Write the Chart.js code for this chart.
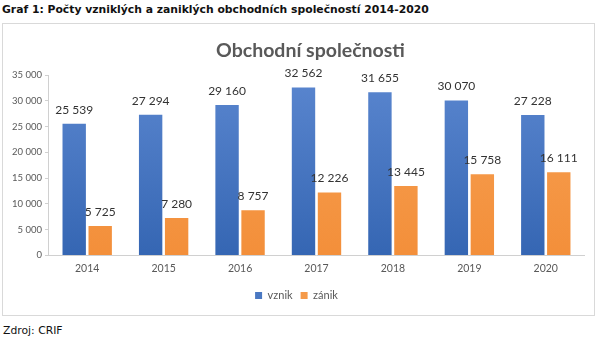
<!DOCTYPE html>
<html>
<head>
<meta charset="utf-8">
<script src="https://cdn.jsdelivr.net/npm/chart.js@4/dist/chart.umd.min.js"></script>
<style>
  html, body { margin:0; padding:0; background:#fff; width:598px; height:342px; overflow:hidden; }
  #hdr { position:absolute; left:2px; top:3px; font:bold 10.8px "DejaVu Sans", Verdana, sans-serif; color:#111; white-space:nowrap; }
  #box { position:absolute; left:2px; top:23px; width:591px; height:291px; border:1px solid #d9d9d9; background:#fff; }
  #ttl { position:absolute; left:12px; top:14px; width:591px; text-align:center; font:bold 19.5px Lato, "Open Sans", sans-serif; color:#595959; white-space:nowrap; }
  #ftr { position:absolute; left:3px; top:324px; font:10.8px "DejaVu Sans", Verdana, sans-serif; color:#111; }
</style>
</head>
<body>
<div id="hdr">Graf 1: Počty vzniklých a zaniklých obchodních společností 2014-2020</div>
<div id="box"><canvas id="c" width="591" height="291"></canvas><div id="ttl"></div></div>
<div id="ftr">Zdroj: CRIF</div>
<script>
const categories = ["2014", "2015", "2016", "2017", "2018", "2019", "2020"];
const vznik = [25539, 27294, 29160, 32562, 31655, 30070, 27228];
const zanik = [5725, 7280, 8757, 12226, 13445, 15758, 16111];
const seriesNames = ["vznik", "zánik"];
const chartTitle = "Obchodní společnosti";
document.getElementById('ttl').textContent = chartTitle;

function fmt(v) { return String(v).replace(/\B(?=(\d{3})+(?!\d))/g, " "); }

function grad(ctx, top, bottom) {
  const c = ctx.chart;
  const a = c.chartArea;
  if (!a) return bottom;
  const g = c.ctx.createLinearGradient(0, a.top, 0, a.bottom);
  g.addColorStop(0, top);
  g.addColorStop(1, bottom);
  return g;
}

const labelsPlugin = {
  id: 'barLabels',
  afterDatasetsDraw(chart) {
    const ctx = chart.ctx;
    ctx.save();
    ctx.font = '12px Lato, "Open Sans", sans-serif';
    ctx.fillStyle = '#333';
    ctx.textAlign = 'center';
    ctx.textBaseline = 'bottom';
    chart.data.datasets.forEach((ds, i) => {
      const meta = chart.getDatasetMeta(i);
      meta.data.forEach((bar, j) => {
        ctx.fillText(fmt(ds.data[j]), bar.x, bar.y - 8);
      });
    });
    ctx.restore();
  }
};

new Chart(document.getElementById('c'), {
  type: 'bar',
  data: {
    labels: categories,
    datasets: [
      { label: seriesNames[0], data: vznik,
        backgroundColor: (ctx) => grad(ctx, '#5a86cf', '#3566b3'),
        categoryPercentage: 0.68, barPercentage: 0.9 },
      { label: seriesNames[1], data: zanik,
        backgroundColor: (ctx) => grad(ctx, '#f7a154', '#f38f3a'),
        categoryPercentage: 0.68, barPercentage: 0.9 }
    ]
  },
  options: {
    responsive: false,
    animation: false,
    devicePixelRatio: 1,
    layout: { padding: { left: 6, right: 10, top: 51, bottom: 4 } },
    plugins: {
      title: { display: false },
      legend: { position: 'bottom',
        labels: { boxWidth: 7, boxHeight: 7, color: '#595959', padding: 8,
          font: { family: 'Lato, "Open Sans", sans-serif', size: 11 },
          generateLabels(chart) {
            return [['#4a78c2'], ['#f59a4a']].map((c, i) => ({
              text: seriesNames[i], fillStyle: c[0], strokeStyle: c[0], lineWidth: 0, datasetIndex: i, fontColor: '#595959'
            }));
          } } },
      tooltip: { enabled: false }
    },
    scales: {
      x: {
        grid: { display: true, drawOnChartArea: false, drawTicks: false },
        border: { display: true, color: '#d0d0d0' },
        ticks: { color: '#595959', padding: 7, font: { family: 'Lato, "Open Sans", sans-serif', size: 10.5 } }
      },
      y: {
        min: 0, max: 35000,
        grid: { display: true, drawOnChartArea: false, drawTicks: true, tickLength: 4, color: '#d0d0d0' },
        border: { display: true, color: '#d0d0d0' },
        ticks: { stepSize: 5000, color: '#595959', padding: 3,
          font: { family: 'Lato, "Open Sans", sans-serif', size: 9.5 },
          callback: (v) => fmt(v) }
      }
    }
  },
  plugins: [labelsPlugin]
});
</script>
</body>
</html>
